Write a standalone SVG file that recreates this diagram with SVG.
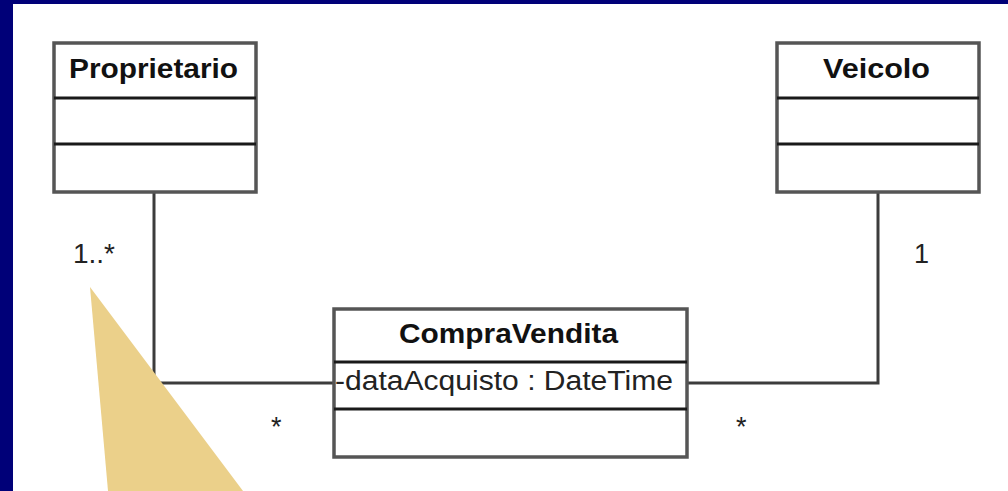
<svg xmlns="http://www.w3.org/2000/svg" width="1008" height="491" viewBox="0 0 1008 491">
<style>
.box{fill:#fff;stroke:#555;stroke-width:3.5}
.div{stroke:#1a1a1a;stroke-width:3}
.conn{fill:none;stroke:#3c3c3c;stroke-width:3}
.title{font-family:"Liberation Sans",Arial,sans-serif;font-weight:bold;font-size:27px;fill:#111}
.txt{font-family:"Liberation Sans",Arial,sans-serif;font-size:27px;fill:#222}
</style>
<rect x="0" y="0" width="1008" height="491" fill="#fff"/>
<rect x="0" y="0" width="1008" height="4" fill="#000078"/>
<rect x="0" y="0" width="13" height="491" fill="#000078"/>
<g id="connectors">
<polyline class="conn" points="154,192 154,383 334,383"/>
<polyline class="conn" points="878,192 878,383 687,383"/>
</g>
<g id="Proprietario">
<rect class="box" x="54" y="43" width="202" height="149"/>
<line class="div" x1="54" y1="98" x2="256" y2="98"/>
<line class="div" x1="54" y1="144" x2="256" y2="144"/>
<text class="title" x="69" y="78" textLength="169" lengthAdjust="spacingAndGlyphs">Proprietario</text>
</g>
<g id="Veicolo">
<rect class="box" x="777" y="43" width="202" height="149"/>
<line class="div" x1="777" y1="98" x2="979" y2="98"/>
<line class="div" x1="777" y1="144" x2="979" y2="144"/>
<text class="title" x="823" y="78" textLength="107" lengthAdjust="spacingAndGlyphs">Veicolo</text>
</g>
<g id="CompraVendita">
<rect class="box" x="334" y="309" width="353" height="148"/>
<line class="div" x1="334" y1="362" x2="687" y2="362"/>
<line class="div" x1="334" y1="409" x2="687" y2="409"/>
<text class="title" x="399" y="343" textLength="219" lengthAdjust="spacingAndGlyphs">CompraVendita</text>
<text class="txt" x="335" y="390" textLength="338" lengthAdjust="spacingAndGlyphs">-dataAcquisto : DateTime</text>
</g>
<g id="labels">
<text class="txt" x="73" y="263" textLength="42" lengthAdjust="spacingAndGlyphs">1..*</text>
<text class="txt" x="914" y="263">1</text>
<text class="txt" x="271" y="436">*</text>
<text class="txt" x="736" y="436">*</text>
</g>
<polygon id="callout" points="90,287 108,491 243,491" fill="#EBD08A"/>
</svg>
